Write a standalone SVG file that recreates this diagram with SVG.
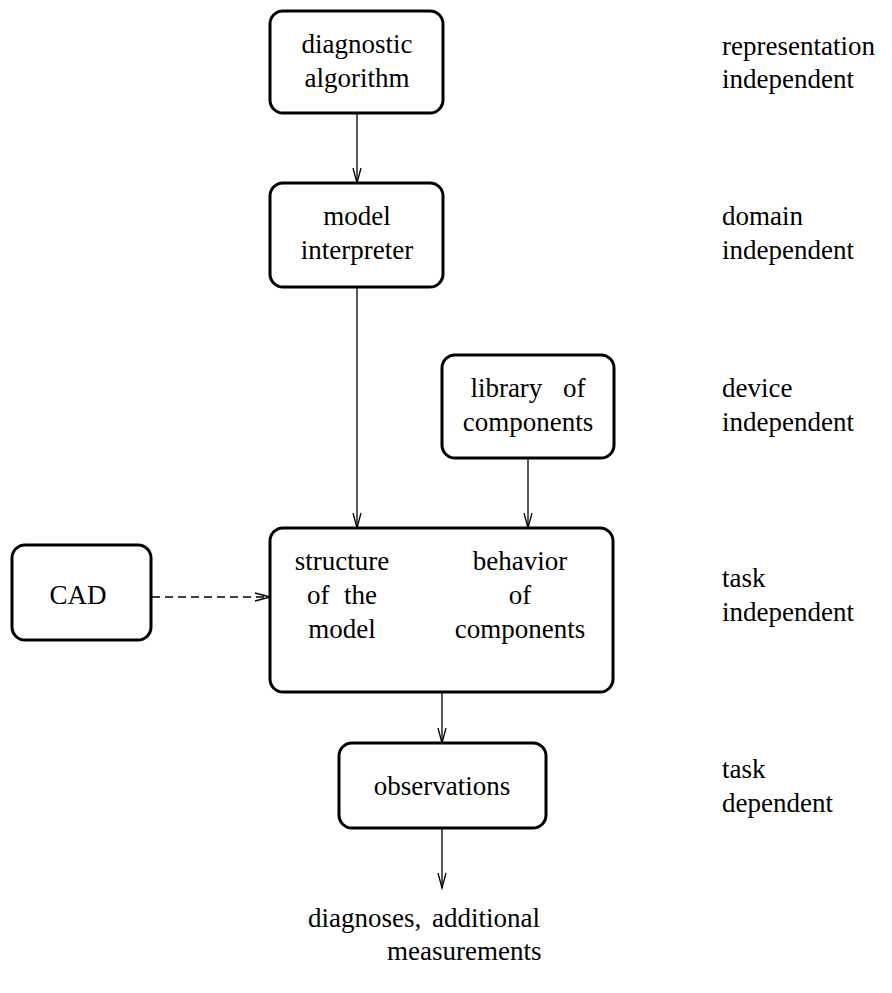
<svg xmlns="http://www.w3.org/2000/svg" width="892" height="993" viewBox="0 0 892 993">
<style>
.box{fill:#fff;stroke:#000;stroke-width:3}
.t{font-family:'Liberation Serif','Times New Roman','DejaVu Serif','Noto Serif',Times,serif;font-size:27px;fill:#000}
.c{text-anchor:middle}
.ln{fill:none;stroke:#000;stroke-width:1.3}
.dash{stroke-dasharray:8 5}
</style>
<defs>
<marker id="ah" markerUnits="userSpaceOnUse" viewBox="-17 -6 19 12" refX="0" refY="0" markerWidth="19" markerHeight="12" orient="auto">
<path d="M-15,-4 L0,0 L-15,4" fill="none" stroke="#000" stroke-width="1.3"/>
</marker>
</defs>
<rect width="892" height="993" fill="#fff"/>
<g id="connectors">
<line class="ln" x1="357" y1="113" x2="357" y2="183" marker-end="url(#ah)"/>
<line class="ln" x1="357" y1="287" x2="357" y2="528" marker-end="url(#ah)"/>
<line class="ln" x1="528" y1="458" x2="528" y2="528" marker-end="url(#ah)"/>
<line class="ln dash" x1="152" y1="597" x2="270" y2="597" marker-end="url(#ah)"/>
<line class="ln" x1="442" y1="692" x2="442" y2="743" marker-end="url(#ah)"/>
<line class="ln" x1="442" y1="828" x2="442" y2="888" marker-end="url(#ah)"/>
</g>
<g id="diagnostic-algorithm">
<rect class="box" x="270" y="11" width="173" height="102" rx="13"/>
<text class="t c" x="357" y="53">diagnostic</text>
<text class="t c" x="357" y="87">algorithm</text>
</g>
<g id="model-interpreter">
<rect class="box" x="270" y="183" width="173" height="104" rx="13"/>
<text class="t c" x="357" y="225">model</text>
<text class="t c" x="357" y="259">interpreter</text>
</g>
<g id="library">
<rect class="box" x="442" y="355" width="172" height="103" rx="13"/>
<text class="t c" x="528" y="397" word-spacing="14">library of</text>
<text class="t c" x="528" y="431">components</text>
</g>
<g id="cad">
<rect class="box" x="12" y="545" width="139" height="95" rx="13"/>
<text class="t c" x="78" y="604">CAD</text>
</g>
<g id="model">
<rect class="box" x="270" y="528" width="343" height="164" rx="13"/>
<text class="t c" x="342" y="570">structure</text>
<text class="t c" x="342" y="604" word-spacing="8">of the</text>
<text class="t c" x="342" y="638">model</text>
<text class="t c" x="520" y="570">behavior</text>
<text class="t c" x="520" y="604">of</text>
<text class="t c" x="520" y="638">components</text>
</g>
<g id="observations">
<rect class="box" x="339" y="743" width="207" height="85" rx="13"/>
<text class="t c" x="442" y="795">observations</text>
</g>
<g id="output">
<text class="t" x="308" y="927">diagnoses,</text>
<text class="t" x="432" y="927">additional</text>
<text class="t" x="387" y="960">measurements</text>
</g>
<g id="levels">
<text class="t" x="722" y="55">representation</text>
<text class="t" x="722" y="88">independent</text>
<text class="t" x="722" y="225">domain</text>
<text class="t" x="722" y="259">independent</text>
<text class="t" x="722" y="397">device</text>
<text class="t" x="722" y="431">independent</text>
<text class="t" x="722" y="587">task</text>
<text class="t" x="722" y="621">independent</text>
<text class="t" x="722" y="778">task</text>
<text class="t" x="722" y="812">dependent</text>
</g>
</svg>
